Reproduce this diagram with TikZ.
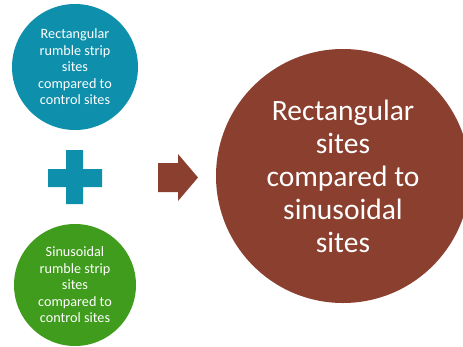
\documentclass[tikz,border=0pt]{standalone}
\usepackage{fontspec}
\setmainfont{Carlito}
\definecolor{cblue}{HTML}{0E8FAB}
\definecolor{cgreen}{HTML}{409C1C}
\definecolor{cbrown}{HTML}{8B3F2E}
\begin{document}
\begin{tikzpicture}[x=1pt,y=-1pt]
\tikzset{
  bubble/.style={circle, inner sep=0pt, text=white, align=center},
  smalltxt/.style={font=\fontsize{14.2}{16.5}\selectfont},
  bigtxt/.style={font=\fontsize{29.5}{33}\selectfont}
}
\useasboundingbox (0,0) rectangle (463,346);
\node[bubble, smalltxt, fill=cblue, minimum size=126pt] (rect) at (75,67)
  {Rectangular\\rumble strip\\sites\\compared to\\control sites};
\node[bubble, smalltxt, fill=cgreen, minimum size=122pt] (sinus) at (75,285)
  {Sinusoidal\\rumble strip\\sites\\compared to\\control sites};
\node[bubble, bigtxt, fill=cbrown, minimum size=254pt] (result) at (343,176)
  {Rectangular\\sites\\compared to\\sinusoidal\\sites};
% plus sign
\fill[cblue] (66,150) -- (83,150) -- (83,169) -- (102,169) -- (102,187) -- (83,187)
  -- (83,204) -- (66,204) -- (66,187) -- (48,187) -- (48,169) -- (66,169) -- cycle;
% arrow
\fill[cbrown] (158,163) -- (178,163) -- (178,154) -- (198,177.5) -- (178,201)
  -- (178,192) -- (158,192) -- cycle;
\end{tikzpicture}
\end{document}
